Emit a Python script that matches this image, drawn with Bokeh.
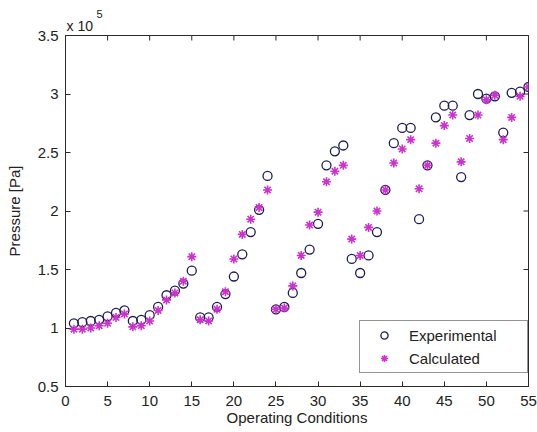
import math
from bokeh.plotting import figure
from bokeh.models import (FixedTicker, Legend, LegendItem, Title,
                          CustomJSTickFormatter, Range1d)
from bokeh.embed import file_html
from bokeh.resources import INLINE

# ---- data (pressure in units of 1e5 Pa) ----
conditions = list(range(1, 56))
experimental = [1.04, 1.05, 1.06, 1.07, 1.10, 1.13, 1.15, 1.06, 1.07, 1.11,
                1.18, 1.28, 1.32, 1.38, 1.49, 1.09, 1.09, 1.18, 1.29, 1.44,
                1.63, 1.82, 2.01, 2.30, 1.16, 1.18, 1.30, 1.47, 1.67, 1.89,
                2.39, 2.51, 2.56, 1.59, 1.47, 1.62, 1.82, 2.18, 2.58, 2.71,
                2.71, 1.93, 2.39, 2.80, 2.90, 2.90, 2.29, 2.82, 3.00, 2.96,
                2.98, 2.67, 3.01, 3.02, 3.06]
calculated = [0.99, 0.99, 1.00, 1.02, 1.04, 1.09, 1.12, 1.01, 1.02, 1.06,
              1.15, 1.24, 1.30, 1.40, 1.61, 1.07, 1.06, 1.16, 1.31, 1.59,
              1.80, 1.93, 2.03, 2.18, 1.16, 1.17, 1.36, 1.62, 1.88, 1.99,
              2.25, 2.34, 2.39, 1.76, 1.62, 1.86, 2.00, 2.18, 2.41, 2.53,
              2.61, 2.19, 2.39, 2.58, 2.73, 2.82, 2.42, 2.62, 2.82, 2.95,
              2.99, 2.61, 2.80, 2.98, 3.06]
x_ticks = [0, 5, 10, 15, 20, 25, 30, 35, 40, 45, 50, 55]
y_ticks = [0.5, 1, 1.5, 2, 2.5, 3, 3.5]
scale_text = "x 10"
scale_exp = "5"

FONT = "Liberation Sans"
AX_COLOR = "#2a2a2a"
TXT = "#222222"

p = figure(width=537, height=432, output_backend="svg", toolbar_location=None,
           x_range=Range1d(x_ticks[0], x_ticks[-1]),
           y_range=Range1d(y_ticks[0], y_ticks[-1]),
           min_border_left=65, min_border_right=9, min_border_top=35,
           min_border_bottom=46, x_axis_label="Operating Conditions",
           y_axis_label="Pressure [Pa]")
p.xgrid.visible = False
p.ygrid.visible = False
p.outline_line_color = AX_COLOR
p.outline_line_width = 1
p.background_fill_color = "white"
p.border_fill_color = "white"

# "x 10^5" multiplier above the top-left corner
p.add_layout(Title(text=scale_text, align="left", offset=1, standoff=4,
                   text_font=FONT, text_font_size="14px",
                   text_font_style="normal", text_color=TXT), "above")
p.add_layout(Title(text=scale_exp, align="left", offset=31, standoff=-8,
                   text_font=FONT, text_font_size="11px",
                   text_font_style="normal", text_color=TXT), "above")

fmt = CustomJSTickFormatter(code="return String(Math.round(tick*10)/10);")

for ax in (p.xaxis[0], p.yaxis[0]):
    ax.major_tick_in = 5
    ax.major_tick_out = 0
    ax.minor_tick_line_color = None
    ax.axis_line_color = AX_COLOR
    ax.major_tick_line_color = AX_COLOR
    ax.major_label_text_font = FONT
    ax.major_label_text_font_size = "15px"
    ax.major_label_text_color = TXT
    ax.axis_label_text_font = FONT
    ax.axis_label_text_font_size = "15px"
    ax.axis_label_text_font_style = "normal"
    ax.axis_label_text_color = TXT
    ax.formatter = fmt
p.xaxis[0].ticker = FixedTicker(ticks=x_ticks)
p.yaxis[0].ticker = FixedTicker(ticks=y_ticks)
p.xaxis[0].major_label_standoff = 9
p.xaxis[0].axis_label_standoff = 0
p.yaxis[0].major_label_standoff = 7
p.yaxis[0].axis_label_standoff = 12

# inward ticks on the top and right edges of the box (clipped to frame)
p.scatter(x_ticks, [y_ticks[-1]] * len(x_ticks), marker="dash", size=10,
          angle=math.pi / 2, line_color=AX_COLOR, line_width=1)
p.scatter([x_ticks[-1]] * len(y_ticks), y_ticks, marker="dash", size=10,
          line_color=AX_COLOR, line_width=1)

r_exp = p.scatter(conditions, experimental, marker="circle", size=9,
                  fill_color=None, line_color="#1c1c55", line_width=1.3)
r_calc = p.scatter(conditions, calculated, marker="asterisk", size=9,
                   line_color="#cc33cc", line_width=1.6)

legend = Legend(items=[LegendItem(label="Experimental", renderers=[r_exp]),
                       LegendItem(label="Calculated", renderers=[r_calc])],
                location=(294, 13), padding=5, spacing=5,
                glyph_width=38, glyph_height=18, label_height=18,
                label_width=113, label_standoff=6, label_text_font=FONT,
                label_text_font_size="15px", label_text_color=TXT,
                border_line_color=AX_COLOR, border_line_width=1,
                background_fill_color="white", background_fill_alpha=1)
p.add_layout(legend, "center")

open("out.html", "w").write(file_html(p, INLINE))
